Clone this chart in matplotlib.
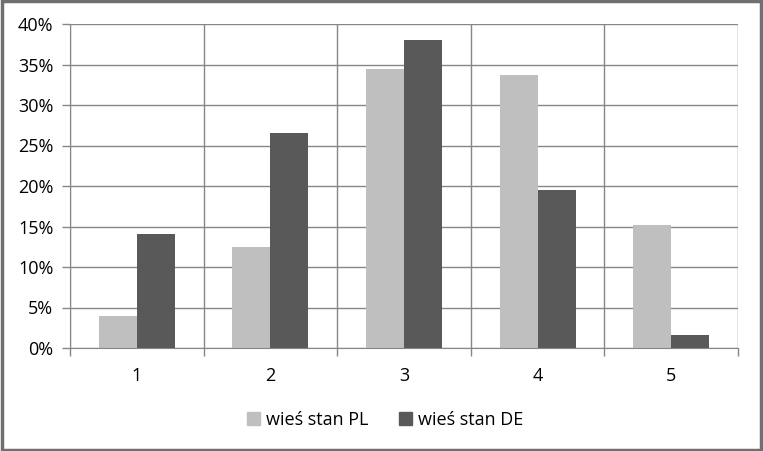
import numpy as np
import matplotlib
matplotlib.use('Agg')
import matplotlib.pyplot as plt
from matplotlib.patches import Rectangle, Patch
from matplotlib.ticker import FuncFormatter

# dane
categories = ['1', '2', '3', '4', '5']
wies_pl = [4.0, 12.5, 34.4, 33.7, 15.2]
wies_de = [14.1, 26.5, 38.0, 19.5, 1.6]
labels = ['wieś stan PL', 'wieś stan DE']

plt.rcParams['font.family'] = ['Open Sans', 'DejaVu Sans']

fig = plt.figure(figsize=(7.63, 4.51), dpi=100)
ax = fig.add_axes([70 / 763, 1 - 348 / 451, 668 / 763, 324 / 451])

x = np.arange(len(categories))
w = 0.285
c_pl = '#bfbfbf'
c_de = '#595959'
ax.bar(x - w / 2, wies_pl, w, color=c_pl, zorder=3)
ax.bar(x + w / 2, wies_de, w, color=c_de, zorder=3)

ax.set_xlim(-0.5, len(categories) - 0.5)
ax.set_ylim(0, 40)
ax.set_yticks(np.arange(0, 41, 5))
ax.yaxis.set_major_formatter(FuncFormatter(lambda v, p: '%d%%' % v))

# pionowe linie miedzy kategoriami
ax.set_xticks(np.arange(-0.5, len(categories), 1.0))
ax.set_xticklabels([])
ax.set_xticks(x, minor=True)
ax.set_xticklabels(categories, minor=True)
ax.tick_params(axis='x', which='minor', length=0, pad=14, labelsize=13)
ax.tick_params(axis='x', which='major', length=6, color='#868686', width=1)
ax.tick_params(axis='y', length=6, color='#868686', width=1, labelsize=13, pad=6)

ax.grid(True, axis='y', color='#868686', linewidth=1, zorder=0)
ax.grid(True, axis='x', which='major', color='#868686', linewidth=1, zorder=0)
for s in ['top', 'right']:
    ax.spines[s].set_visible(False)
for s in ['left', 'bottom']:
    ax.spines[s].set_color('#868686')
    ax.spines[s].set_zorder(4)

handles = [Patch(color=c_pl, label=labels[0]), Patch(color=c_de, label=labels[1])]
fig.legend(handles=handles, loc='center', bbox_to_anchor=(385 / 763, 1 - 420 / 451),
           ncol=2, frameon=False, fontsize=13, handlelength=0.7, handleheight=0.7,
           handletextpad=0.35, columnspacing=1.7)

# ramka
fig.patches.append(Rectangle((0.002, 0.002), 0.996, 0.995, transform=fig.transFigure,
                             fill=False, edgecolor='#707070', linewidth=2.5))

fig.savefig('out.png', dpi=100)
